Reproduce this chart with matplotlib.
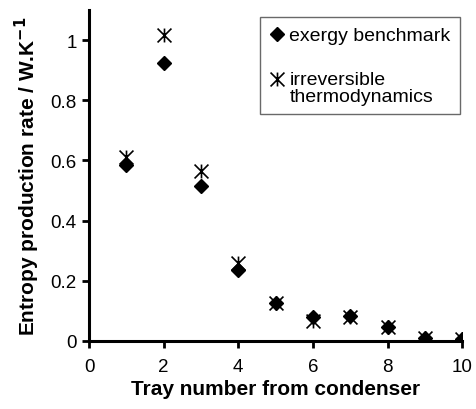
import matplotlib
matplotlib.use('Agg')
import matplotlib.pyplot as plt
from matplotlib.path import Path

plt.rcParams['font.family'] = ['Liberation Sans', 'DejaVu Sans']

# Данные с графика
trays = [1, 2, 3, 4, 5, 6, 7, 8, 9, 10]
exergy = [0.585, 0.924, 0.515, 0.237, 0.126, 0.080, 0.083, 0.046, 0.010, 0.005]
irrev = [0.612, 1.017, 0.565, 0.260, 0.126, 0.066, 0.080, 0.045, 0.010, 0.005]

x_ticks = [0, 2, 4, 6, 8, 10]
y_ticks = [0, 0.2, 0.4, 0.6, 0.8, 1.0]
y_tick_labels = ['0', '0.2', '0.4', '0.6', '0.8', '1']

# Маркер "звёздочка" как в Excel: X + вертикальная линия
star = Path([(-1, -1), (1, 1), (-1, 1), (1, -1), (0, -1), (0, 1)],
            [Path.MOVETO, Path.LINETO, Path.MOVETO, Path.LINETO, Path.MOVETO, Path.LINETO])

fig = plt.figure(figsize=(4.76, 4.10), dpi=100)
ax = fig.add_axes([0.187, 0.166, 0.784, 0.807])

ax.plot(trays, exergy, linestyle='none', marker='D', markersize=7,
        color='black', label='exergy benchmark')
ax.plot(trays, irrev, linestyle='none', marker=star, markersize=10,
        markeredgewidth=1.2, markerfacecolor='none', markeredgecolor='black',
        label='irreversible\nthermodynamics')

ax.set_xlim(0, 10)
ax.set_ylim(0, 1.1)
ax.set_xticks(x_ticks)
ax.set_yticks(y_ticks)
ax.set_yticklabels(y_tick_labels)

for s in ['top', 'right']:
    ax.spines[s].set_visible(False)
for s in ['left', 'bottom']:
    ax.spines[s].set_linewidth(2.2)
ax.tick_params(direction='out', length=5, width=2, labelsize=13.5, pad=4)
ax.tick_params(axis='x', pad=7)

ax.set_xlabel('Tray number from condenser', fontsize=15, fontweight='bold', labelpad=3)
ax.set_ylabel('Entropy production rate / W.K$^{\\mathbf{-1}}$', fontsize=15,
              fontweight='bold', labelpad=6)

leg = ax.legend(loc='upper right', bbox_to_anchor=(0.995, 0.979), fontsize=14,
                frameon=True, fancybox=False, edgecolor='#444444',
                handlelength=0.7, handletextpad=0.3, labelspacing=1.35,
                borderpad=0.5, borderaxespad=0)
leg.get_frame().set_linewidth(1)
leg.get_texts()[1].set_linespacing(1.0)
# звёздочку в легенде поднимаем к первой строке подписи
h = leg.legend_handles[1]
h.set_ydata([y + 6 for y in h.get_ydata()])

plt.savefig('out.png')
